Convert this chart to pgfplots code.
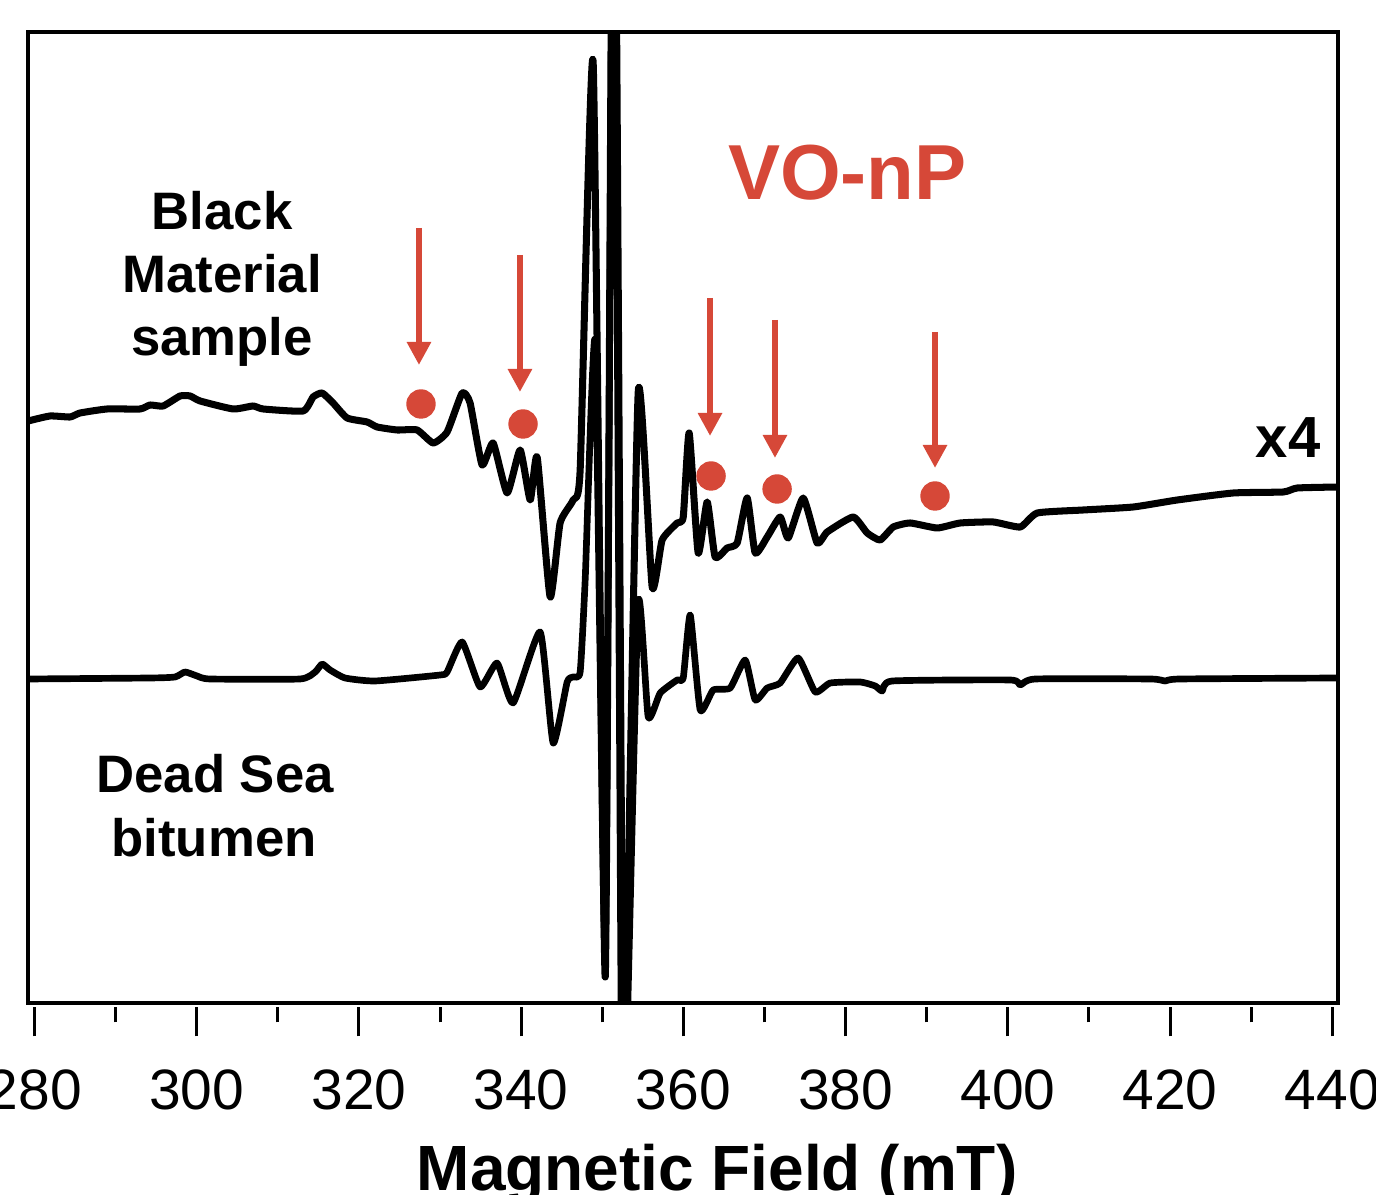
\documentclass[border=0pt]{standalone}
\usepackage{fontspec}
\setmainfont{Liberation Sans}
\usepackage{pgfplots}
\pgfplotsset{compat=1.18}
\usetikzlibrary{arrows.meta,calc}
\definecolor{vored}{RGB}{214,72,56}

\begin{document}
\begin{tikzpicture}
\begin{axis}[
    width=131mm, height=97.1mm, scale only axis,
    xmin=279.2, xmax=440.7,
    ymin=0, ymax=971,
    xtick={280,300,...,440},
    minor x tick num=1,
    ytick=\empty,
    xtick pos=bottom,
    tick align=outside,
    major tick length=2.9mm,
    minor tick length=1.5mm,
    xtick style={line width=0.85pt, black, yshift=-0.45mm},
    axis line style={line width=1.4pt},
    /pgf/number format/assume math mode=true,
    tick label style={font=\fontsize{16.2}{19}\selectfont},
    xticklabel style={anchor=base, yshift=-7.8mm},
    xlabel={Magnetic Field (mT)},
    xlabel style={at={(axis description cs:0.526,-0.1926)}, anchor=base,
                  font=\fontsize{18.2}{22}\selectfont\bfseries},
]
% Black Material sample (x4)
\addplot[black, line width=2pt, line join=round, smooth, tension=0.3, mark=none] coordinates {
(279.21,582)(281.92,587)(284.39,586)(285.62,590)(288.95,594)(293.02,594)
(294.25,598)(295.86,597)(297.95,607)(299.19,607)(300.42,602)(304.49,594)
(306.95,597)(308.19,594)(313.12,592)(314.35,606)(315.46,610)(316.81,600)
(318.54,585)(321.01,581)(322.24,576)(324.71,573)(327.17,573)(329.15,560)
(330.87,571)(332.72,610)(333.70,600)(335.18,538)(336.54,560)(338.27,510)
(339.87,553)(341.11,503)(341.97,546)(343.57,406)(344.80,480)(346.41,503)
(347.27,533)(348.87,941)(350.36,26)(351.16,1063)(351.59,1063)(352.39,-67)
(352.76,-67)(354.43,611)(356.15,416)(357.38,463)(359.23,480)(359.98,486)
(360.71,570)(361.82,450)(362.93,501)(363.91,446)(365.39,455)(366.63,460)
(367.86,505)(368.85,450)(370.33,466)(371.93,486)(372.92,465)(374.77,505)
(376.49,460)(377.73,471)(380.93,486)(382.66,470)(384.26,463)(385.87,476)
(387.96,480)(391.29,475)(394.13,480)(398.20,481)(401.53,476)(403.63,490)
(409.30,493)(415.46,496)(420.89,503)(427.79,510)(433.96,511)(435.68,515)
(440.74,516)
};
% Dead Sea bitumen
\addplot[black, line width=1.9pt, line join=round, smooth, tension=0.3, mark=none] coordinates {
(279.21,324)(294.25,325)(297.33,326)(298.56,331)(300.04,327)(301.64,324)
(312.74,324)(314.60,331)(315.46,339)(316.44,333)(318.29,325)(321.99,322)
(330.01,328)(330.87,331)(332.72,361)(334.94,316)(337.03,340)(339.01,300)
(342.34,371)(343.94,260)(345.67,321)(346.41,326)(347.27,331)(347.89,423)
(349.12,661)(350.36,43)(351.22,1063)(351.71,1063)(352.57,-67)(352.94,-67)
(354.43,400)(355.66,286)(357.14,310)(359.23,323)(359.98,325)(360.84,388)
(362.07,293)(363.67,313)(365.77,315)(367.62,343)(368.85,303)(370.33,315)
(371.93,320)(374.15,345)(376.25,311)(378.10,320)(381.80,321)(383.65,317)
(384.51,312)(385.75,322)(400.30,323)(401.53,318)(403.38,324)(417.56,324)
(419.41,322)(421.26,324)(440.74,325)
};
% VO-nP markers
\addplot[only marks, mark=*, mark size=1.4mm, color=vored,
         mark options={draw=vored, fill=vored}] coordinates {
(327.65,599)(340.23,579)(363.41,527)(371.55,514)(391.02,507)
};
\draw[vored, line width=1.8pt, -{Triangle[length=2.3mm,width=2.3mm]}]
    (axis cs:327.40,775) -- (axis cs:327.40,638);
\draw[vored, line width=1.8pt, -{Triangle[length=2.3mm,width=2.3mm]}]
    (axis cs:339.85,748) -- (axis cs:339.85,611);
\draw[vored, line width=1.8pt, -{Triangle[length=2.3mm,width=2.3mm]}]
    (axis cs:363.28,705) -- (axis cs:363.28,567);
\draw[vored, line width=1.8pt, -{Triangle[length=2.3mm,width=2.3mm]}]
    (axis cs:371.29,683) -- (axis cs:371.29,545);
\draw[vored, line width=1.8pt, -{Triangle[length=2.3mm,width=2.3mm]}]
    (axis cs:391.02,671) -- (axis cs:391.02,535);

\node[anchor=base, font=\fontsize{15}{18}\selectfont\bfseries] at (axis cs:303.13,773) {Black};
\node[anchor=base, font=\fontsize{15}{18}\selectfont\bfseries] at (axis cs:303.13,710) {Material};
\node[anchor=base, font=\fontsize{15}{18}\selectfont\bfseries] at (axis cs:303.13,647) {sample};
\node[anchor=base, font=\fontsize{15}{18}\selectfont\bfseries] at (axis cs:302.27,210) {Dead Sea};
\node[anchor=base, font=\fontsize{15}{18}\selectfont\bfseries] at (axis cs:302.14,146) {bitumen};
\node[anchor=base, text=vored, font=\fontsize{22.2}{26}\selectfont\bfseries] at (axis cs:380.2,803) {VO-nP};
\node[anchor=base west, inner sep=0pt, font=\fontsize{16.5}{20}\selectfont\bfseries] at (axis cs:430.5,545) {x4};

\path (rel axis cs:0,0) coordinate (boxsw) (rel axis cs:1,1) coordinate (boxne);
\end{axis}
\pgfresetboundingbox
\path[use as bounding box] ($(boxsw)+(-2.8mm,-19.2mm)$) rectangle ($(boxne)+(3.8mm,3.2mm)$);
\end{tikzpicture}
\end{document}
